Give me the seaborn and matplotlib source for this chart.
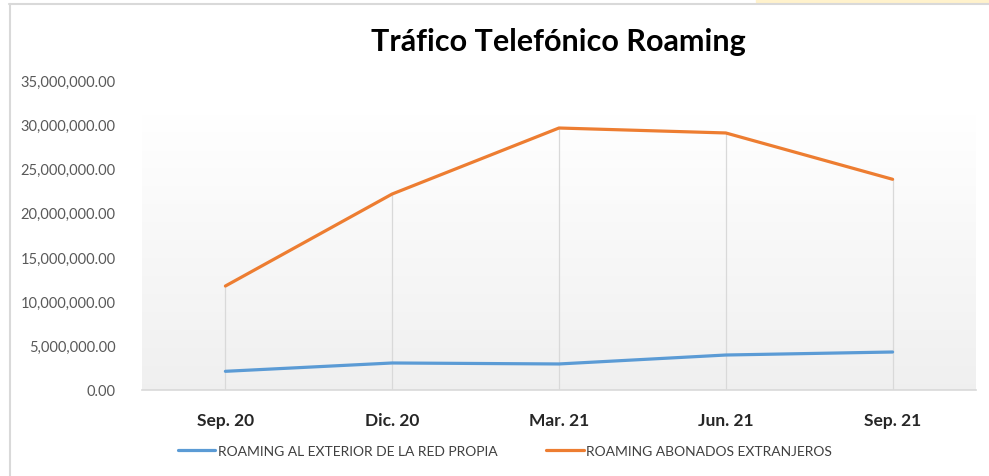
import numpy as np
import pandas as pd
import matplotlib.pyplot as plt
import matplotlib.ticker as mticker
from matplotlib.patches import Rectangle
from matplotlib.lines import Line2D
import seaborn as sns

periods = ["Sep. 20", "Dic. 20", "Mar. 21", "Jun. 21", "Sep. 21"]
roaming_exterior = [2110000, 3050000, 2940000, 3950000, 4290000]
roaming_extranjeros = [11740000, 22130000, 29580000, 29020000, 23790000]
series_names = ["ROAMING AL EXTERIOR DE LA RED PROPIA", "ROAMING ABONADOS EXTRANJEROS"]
colors = ["#5B9BD5", "#ED7D31"]


def main():
    df = pd.DataFrame({
        "periodo": periods * 2,
        "valor": roaming_exterior + roaming_extranjeros,
        "serie": [series_names[0]] * len(periods) + [series_names[1]] * len(periods),
    })

    sns.set_theme(style="white")
    plt.rcParams["font.family"] = ["Lato", "DejaVu Sans"]

    fig = plt.figure(figsize=(9.89, 4.77), dpi=100)
    ax = fig.add_axes([142 / 989, 1 - 391 / 477, (976 - 142) / 989, (391 - 81) / 477])

    # chart frame like the spreadsheet export
    fig.patches.append(Rectangle((756 / 989, 1 - 3 / 477), 1, 3 / 477, transform=fig.transFigure,
                                 color="#FFF2CC", zorder=0))
    fig.lines.append(Line2D([9 / 989, 1], [1 - 4.5 / 477] * 2, transform=fig.transFigure,
                            color="#D9D9D9", lw=1.5))
    fig.lines.append(Line2D([10 / 989] * 2, [0, 1 - 4.5 / 477], transform=fig.transFigure,
                            color="#D9D9D9", lw=1.5))

    # gradient background of the plot area (white at top -> light gray at bottom)
    shade = np.linspace(1.0, 0.94, 256)
    grad = np.dstack([shade, shade, shade]).reshape(256, 1, 3)
    ax.imshow(grad, extent=[0, 1, 0, 0.89], transform=ax.transAxes, aspect="auto", zorder=0)

    sns.lineplot(data=df, x="periodo", y="valor", hue="serie", palette=colors,
                 sort=False, linewidth=2.3, legend=False, ax=ax, zorder=3)

    # drop lines
    tops = [max(a, b) for a, b in zip(roaming_exterior, roaming_extranjeros)]
    ax.vlines(range(len(periods)), 0, tops, color="#D9D9D9", lw=0.9, zorder=2)

    ax.set_xlim(-0.5, len(periods) - 0.5)
    ax.set_ylim(0, 35000000)
    ax.yaxis.set_major_locator(mticker.MultipleLocator(5000000))
    ax.yaxis.set_major_formatter(mticker.StrMethodFormatter("{x:,.2f}"))
    ax.set_xlabel("")
    ax.set_ylabel("")
    for s in ["top", "right", "left"]:
        ax.spines[s].set_visible(False)
    ax.spines["bottom"].set_color("#D9D9D9")
    ax.spines["bottom"].set_linewidth(1.2)
    ax.tick_params(axis="y", length=0, pad=19, labelsize=10.5, labelcolor="#595959")
    ax.tick_params(axis="x", length=0, pad=16, labelsize=12.5, labelcolor="#262626")
    for lab in ax.get_xticklabels():
        lab.set_fontweight("bold")
    ax.set_facecolor("white")

    fig.text(558 / 989, 1 - 42 / 477, "Tráfico Telefónico Roaming", ha="center", va="center",
             fontsize=22, fontweight="bold", color="black")

    handles = [Line2D([], [], color=c, lw=2.3) for c in colors]
    fig.legend(handles, series_names, loc="center", bbox_to_anchor=(505 / 989, 1 - 452 / 477),
               ncol=2, frameon=False, fontsize=10, handlelength=2.7, handletextpad=0.2,
               columnspacing=3.5, labelcolor="#404040")

    fig.savefig("out.png", dpi=100, facecolor="white")


if __name__ == "__main__":
    main()
